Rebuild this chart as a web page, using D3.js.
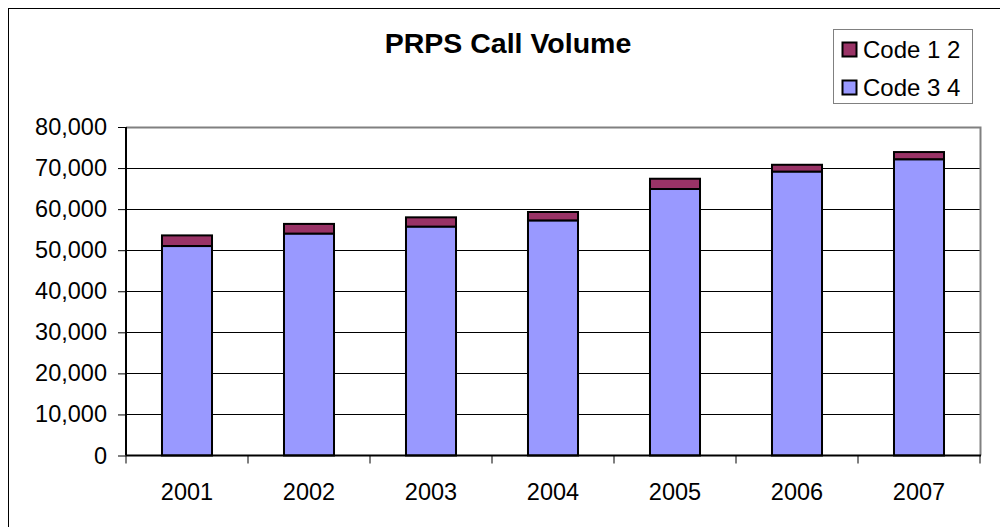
<!DOCTYPE html>
<html><head><meta charset="utf-8">
<script src="https://cdn.jsdelivr.net/npm/d3@7"></script>
<style>body{margin:0;background:#fff}svg{display:block;font-family:"Liberation Sans",Arial,sans-serif}</style>
</head><body><svg id="c" width="1000" height="527"></svg>
<script>
const categories = ["2001","2002","2003","2004","2005","2006","2007"];
const code34 = [51000, 54000, 55700, 57200, 64900, 69100, 72100];
const code12 = [2600, 2400, 2300, 2100, 2500, 1700, 1800];
const seriesNames = ["Code 1 2", "Code 3 4"];
const yTicks = [0,10000,20000,30000,40000,50000,60000,70000,80000];

const svg = d3.select("#c");
const L=126, R=980, T=127, B=455.5;
svg.append("rect").attr("x",8.5).attr("y",8.5).attr("width",1100).attr("height",1100).attr("fill","#fff").attr("stroke","#000").attr("stroke-width",1);

const x = d3.scaleBand().domain(categories).range([L,R]).paddingInner(0.59).paddingOuter(0.295);
const xb = d3.scaleBand().domain(categories).range([L,R]);
const y = d3.scaleLinear().domain([0,80000]).range([B,T]);

// gridlines
svg.append("g").selectAll("line").data(yTicks.filter(d=>d>0 && d<80000)).join("line")
  .attr("x1",L).attr("x2",R).attr("y1",d=>Math.round(y(d))+0.5).attr("y2",d=>Math.round(y(d))+0.5)
  .attr("stroke","#000").attr("stroke-width",1);
// plot border top/right
svg.append("path").attr("d",`M${L},${T+0.5}H${R+0.5}V${B}`).attr("fill","none").attr("stroke","#808080").attr("stroke-width",2);

const stack = categories.map((c,i)=>({c, a:code34[i], b:code12[i]}));
const g = svg.append("g");
g.selectAll("rect.b").data(stack).join("rect").attr("class","b")
  .attr("x",d=>x(d.c)).attr("width",x.bandwidth())
  .attr("y",d=>y(d.a+d.b)).attr("height",d=>y(d.a)-y(d.a+d.b))
  .attr("fill","#993366").attr("stroke","#000").attr("stroke-width",2);
g.selectAll("rect.a").data(stack).join("rect").attr("class","a")
  .attr("x",d=>x(d.c)).attr("width",x.bandwidth())
  .attr("y",d=>y(d.a)).attr("height",d=>B-y(d.a))
  .attr("fill","#9999FF").attr("stroke","#000").attr("stroke-width",2);

// y axis
const ya = svg.append("g").attr("transform",`translate(${L},0)`)
  .call(d3.axisLeft(y).tickValues(yTicks).tickFormat(d3.format(",")).tickSize(8).tickPadding(11));
ya.select(".domain").attr("stroke","#000").attr("stroke-width",2).attr("d",`M0,${T}V${B}`);
ya.selectAll("text").attr("font-size",23.5).attr("fill","#000").attr("font-family","Liberation Sans, Arial, sans-serif");
ya.selectAll(".tick line").attr("stroke","#000");

// x axis
const xa = svg.append("g").attr("transform",`translate(0,${B})`);
xa.append("line").attr("x1",L).attr("x2",R+1).attr("stroke","#000").attr("stroke-width",2);
xa.selectAll("line.t").data(categories.concat(["end"])).join("line").attr("class","t")
  .attr("x1",d=>d==="end"?R:xb(d)).attr("x2",d=>d==="end"?R:xb(d)).attr("y1",0).attr("y2",8)
  .attr("stroke","#000").attr("stroke-width",1);
xa.selectAll("text").data(categories).join("text")
  .attr("x",d=>xb(d)+xb.bandwidth()/2).attr("y",44.5).attr("text-anchor","middle")
  .attr("font-size",23.5).text(d=>d);

// title
svg.append("text").attr("x",508).attr("y",53).attr("text-anchor","middle")
  .attr("font-size",28.5).attr("font-weight","bold").text("PRPS Call Volume");

// legend
const lg = svg.append("g");
lg.append("rect").attr("x",833.5).attr("y",29.5).attr("width",139).attr("height",74)
  .attr("fill","#fff").attr("stroke","#808080").attr("stroke-width",1);
const legColors = {"Code 1 2":"#993366","Code 3 4":"#9999FF"};
seriesNames.forEach((n,i)=>{
  const yy = 49.5 + i*38;
  lg.append("rect").attr("x",842.5).attr("y",yy-7).attr("width",14).attr("height",14)
    .attr("fill",legColors[n]).attr("stroke","#000").attr("stroke-width",2);
  lg.append("text").attr("x",863).attr("y",yy+8).attr("font-size",24).text(n);
});
</script></body></html>
